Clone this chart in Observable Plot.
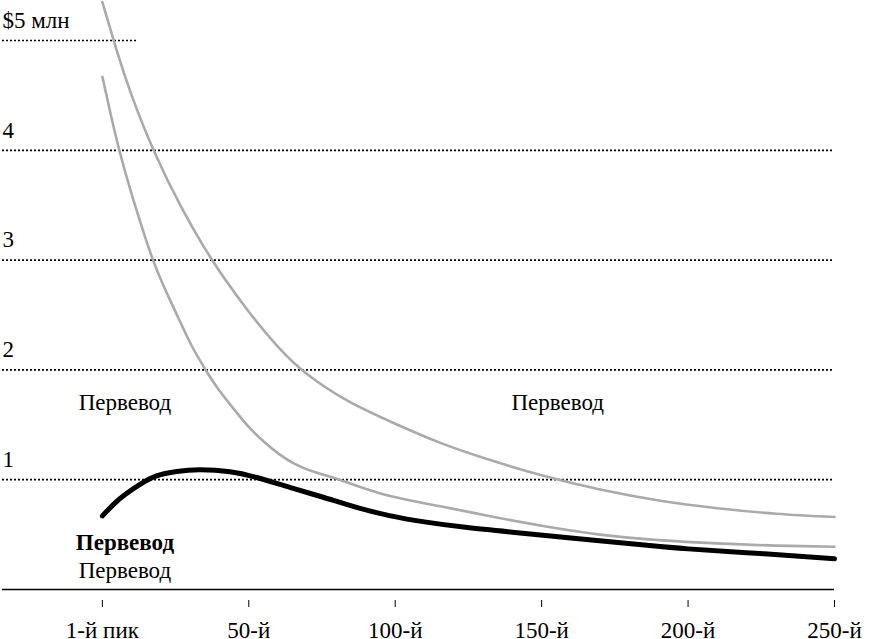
<!DOCTYPE html>
<html><head><meta charset="utf-8">
<script src="https://cdn.jsdelivr.net/npm/d3@7"></script>
<script src="https://cdn.jsdelivr.net/npm/@observablehq/plot@0.6"></script>
<style>body{margin:0;background:#fff}</style>
</head><body><div id="chart"></div>
<script>
// Tick values and labels
const pickTicks = [0, 50, 100, 150, 200, 250];
const pickTickLabels = ["1-й пик", "50-й", "100-й", "150-й", "200-й", "250-й"];
const valueTicks = [1, 2, 3, 4, 5];
const valueTickLabels = ["1", "2", "3", "4", "$5 млн"];

// Upper gray series
const upperPick = [0, 5, 10, 18, 27, 34, 38, 42, 50, 60, 70, 84, 100, 115, 130, 150, 170, 190, 210, 230, 250];
const upperValue = [5.35, 4.9, 4.5, 3.97, 3.48, 3.15, 2.98, 2.82, 2.53, 2.21, 1.96, 1.715, 1.51, 1.34, 1.2, 1.04, 0.91, 0.81, 0.74, 0.69, 0.66];

// Lower gray series
const lowerPick = [0, 3, 6, 10, 14, 17.3, 21, 26, 30.5, 35.5, 40, 45, 50, 55, 60, 66, 73, 81, 95, 115, 132, 150, 170, 190, 210, 230, 250];
const lowerValue = [4.67, 4.31, 3.98, 3.6, 3.26, 3.0, 2.76, 2.47, 2.22, 1.99, 1.81, 1.64, 1.48, 1.35, 1.24, 1.14, 1.065, 1.0, 0.875, 0.76, 0.67, 0.58, 0.5, 0.45, 0.42, 0.4, 0.39];

// Black series
const blackPick = [0, 4, 8, 13, 18.5, 25.4, 33.3, 43.6, 52.7, 64, 75.4, 86.8, 98, 110, 124, 140, 160, 186, 200, 226, 250];
const blackValue = [0.67, 0.78, 0.87, 0.96, 1.035, 1.075, 1.09, 1.073, 1.02, 0.93, 0.84, 0.748, 0.673, 0.616, 0.566, 0.522, 0.47, 0.402, 0.37, 0.325, 0.28];

// Annotations
const plainText = ["Первевод", "Первевод", "Первевод"];
const plainPick = [7.7, 155.5, 7.7];
const plainValue = [1.70, 1.70, 0.17];
const boldText = ["Первевод"];
const boldPick = [7.7];
const boldValue = [0.43];

const toRows = (xs, ys) => xs.map((x, i) => ({x, y: ys[i]}));
const upper = toRows(upperPick, upperValue);
const lower = toRows(lowerPick, lowerValue);
const black = toRows(blackPick, blackValue);
const plainLabels = plainText.map((t, i) => ({t, x: plainPick[i], y: plainValue[i]}));
const boldLabels = boldText.map((t, i) => ({t, x: boldPick[i], y: boldValue[i]}));

const FS = 23;
const chart = Plot.plot({
  width: 869,
  height: 639,
  marginLeft: 2,
  marginRight: 35,
  marginTop: 40,
  marginBottom: 50,
  style: {fontFamily: "'Liberation Serif', serif", fontSize: FS + "px", color: "#000", background: "#fff"},
  x: {domain: [-34.1, 250], axis: null},
  y: {domain: [0, 5], axis: null},
  marks: [
    Plot.ruleY(valueTicks.filter(d => d < 5), {stroke: "#000", strokeWidth: 1.7, strokeDasharray: "2,2"}),
    Plot.ruleY([5], {x1: () => -34.1, x2: () => 12, stroke: "#000", strokeWidth: 1.7, strokeDasharray: "2,2"}),
    Plot.text(valueTicks, {y: d => d, text: (d, i) => valueTickLabels[i], frameAnchor: "left", textAnchor: "start", dy: -20, fontSize: FS}),
    Plot.ruleY([0], {stroke: "#000", strokeWidth: 1.3}),
    Plot.axisX(pickTicks, {tickFormat: d => pickTickLabels[pickTicks.indexOf(d)], label: null, tickSize: 7, tickPadding: 14, dy: 11, fontSize: FS, stroke: "#000"}),
    Plot.line(upper, {x: "x", y: "y", curve: "natural", stroke: "#aaaaaa", strokeWidth: 2.6}),
    Plot.line(lower, {x: "x", y: "y", curve: "natural", stroke: "#aaaaaa", strokeWidth: 2.6}),
    Plot.line(black, {x: "x", y: "y", curve: "natural", stroke: "#000", strokeWidth: 5, strokeLinecap: "round"}),
    Plot.text(plainLabels, {x: "x", y: "y", text: "t", fontSize: FS, fill: "#000"}),
    Plot.text(boldLabels, {x: "x", y: "y", text: "t", fontSize: FS, fontWeight: "bold", fill: "#000"})
  ]
});
document.getElementById("chart").appendChild(chart);
</script>
</body></html>
